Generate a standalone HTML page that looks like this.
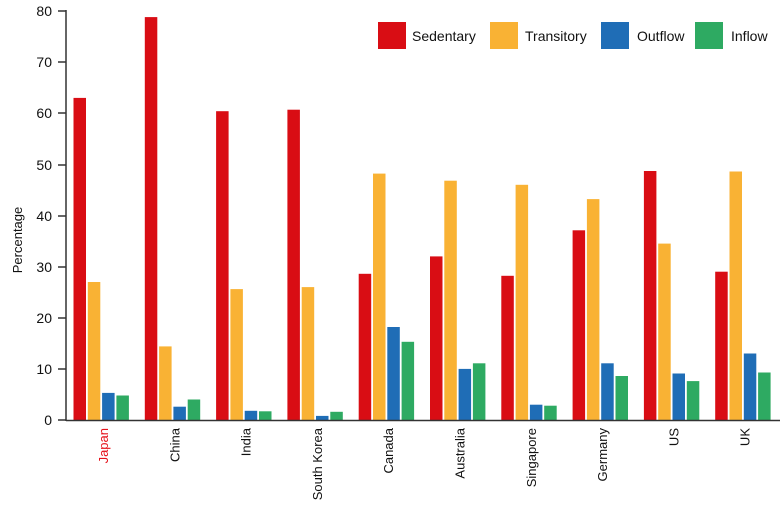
<!DOCTYPE html><html><head><style>body{margin:0;background:#fff}svg{display:block;font-family:"Liberation Sans Narrow","Liberation Sans",sans-serif}</style></head><body>
<svg width="780" height="510" viewBox="0 0 780 510">
<g fill="#111" font-size="14" text-anchor="end">
<text x="52" y="16">80</text><text x="52" y="67">70</text><text x="52" y="118">60</text><text x="52" y="170">50</text><text x="52" y="221">40</text><text x="52" y="272">30</text><text x="52" y="323">20</text><text x="52" y="374">10</text><text x="52" y="425">0</text>
</g>
<g stroke="#333" stroke-width="1.5"><line x1="58" y1="11" x2="66" y2="11"/><line x1="58" y1="62" x2="66" y2="62"/><line x1="58" y1="113" x2="66" y2="113"/><line x1="58" y1="165" x2="66" y2="165"/><line x1="58" y1="216" x2="66" y2="216"/><line x1="58" y1="267" x2="66" y2="267"/><line x1="58" y1="318" x2="66" y2="318"/><line x1="58" y1="369" x2="66" y2="369"/><line x1="58" y1="420" x2="66" y2="420"/></g>
<text transform="translate(22,240) rotate(-90)" text-anchor="middle" font-size="13" fill="#111">Percentage</text>
<g>
<g fill="#d90d14">
<rect x="73.5" y="97.9" width="12.5" height="322.1"/><rect x="144.8" y="17.1" width="12.5" height="402.9"/><rect x="216.1" y="111.2" width="12.5" height="308.8"/><rect x="287.4" y="109.7" width="12.5" height="310.3"/><rect x="358.7" y="273.8" width="12.5" height="146.2"/><rect x="430" y="256.4" width="12.5" height="163.6"/><rect x="501.3" y="275.8" width="12.5" height="144.2"/><rect x="572.6" y="230.3" width="12.5" height="189.7"/><rect x="643.9" y="171" width="12.5" height="249"/><rect x="715.2" y="271.7" width="12.5" height="148.3"/>
</g>
<g fill="#f9b234">
<rect x="87.8" y="282" width="12.5" height="138"/><rect x="159.1" y="346.4" width="12.5" height="73.6"/><rect x="230.4" y="289.1" width="12.5" height="130.9"/><rect x="301.7" y="287.1" width="12.5" height="132.9"/><rect x="373" y="173.6" width="12.5" height="246.4"/><rect x="444.3" y="180.7" width="12.5" height="239.3"/><rect x="515.6" y="184.8" width="12.5" height="235.2"/><rect x="586.9" y="199.1" width="12.5" height="220.9"/><rect x="658.2" y="243.6" width="12.5" height="176.4"/><rect x="729.5" y="171.5" width="12.5" height="248.5"/>
</g>
<g fill="#1f6db6">
<rect x="102.1" y="392.9" width="12.5" height="27.1"/><rect x="173.4" y="406.7" width="12.5" height="13.3"/><rect x="244.7" y="410.8" width="12.5" height="9.2"/><rect x="316" y="415.9" width="12.5" height="4.1"/><rect x="387.3" y="327" width="12.5" height="93"/><rect x="458.6" y="368.9" width="12.5" height="51.1"/><rect x="529.9" y="404.7" width="12.5" height="15.3"/><rect x="601.2" y="363.3" width="12.5" height="56.7"/><rect x="672.5" y="373.5" width="12.5" height="46.5"/><rect x="743.8" y="353.5" width="12.5" height="66.5"/>
</g>
<g fill="#2eaa62">
<rect x="116.4" y="395.5" width="12.5" height="24.5"/><rect x="187.7" y="399.5" width="12.5" height="20.5"/><rect x="259" y="411.3" width="12.5" height="8.7"/><rect x="330.3" y="411.8" width="12.5" height="8.2"/><rect x="401.6" y="341.8" width="12.5" height="78.2"/><rect x="472.9" y="363.3" width="12.5" height="56.7"/><rect x="544.2" y="405.7" width="12.5" height="14.3"/><rect x="615.5" y="376" width="12.5" height="44"/><rect x="686.8" y="381.1" width="12.5" height="38.9"/><rect x="758.1" y="372.5" width="12.5" height="47.5"/>
</g>
</g>
<line x1="66" y1="10" x2="66" y2="421" stroke="#333" stroke-width="1.5"/>
<line x1="66" y1="420.5" x2="780" y2="420.5" stroke="#333" stroke-width="1.5"/>
<g font-size="13" text-anchor="end" fill="#111">
<text transform="translate(108,428) rotate(-90)" fill="#e5121b">Japan</text>
<text transform="translate(179.3,428) rotate(-90)">China</text>
<text transform="translate(250.6,428) rotate(-90)">India</text>
<text transform="translate(321.9,428) rotate(-90)">South Korea</text>
<text transform="translate(393.2,428) rotate(-90)">Canada</text>
<text transform="translate(464.5,428) rotate(-90)">Australia</text>
<text transform="translate(535.8,428) rotate(-90)">Singapore</text>
<text transform="translate(607.1,428) rotate(-90)">Germany</text>
<text transform="translate(678.4,428) rotate(-90)">US</text>
<text transform="translate(749.7,428) rotate(-90)">UK</text>
</g>
<g font-size="14" fill="#111">
<rect x="378" y="22" width="28" height="27" fill="#d90d14"/><text x="412" y="41">Sedentary</text>
<rect x="490" y="22" width="28" height="27" fill="#f9b234"/><text x="525" y="41">Transitory</text>
<rect x="601" y="22" width="28" height="27" fill="#1f6db6"/><text x="637" y="41">Outflow</text>
<rect x="695" y="22" width="28" height="27" fill="#2eaa62"/><text x="731" y="41">Inflow</text>
</g>
</svg></body></html>
